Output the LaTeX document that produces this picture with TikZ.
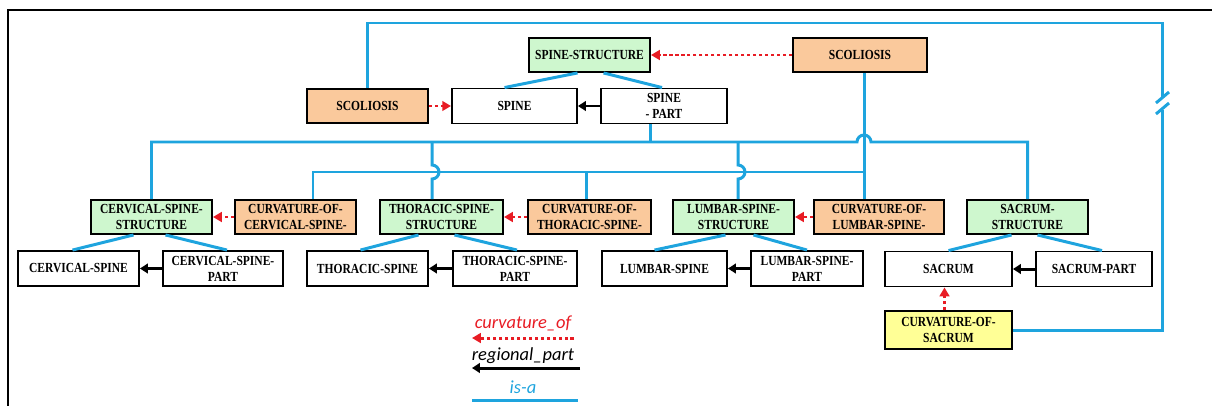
\documentclass[tikz,border=0pt]{standalone}
\usepackage{fontspec}
\usepackage{xcolor}
\definecolor{isablue}{RGB}{30,164,222}
\definecolor{curvred}{RGB}{232,28,36}
\definecolor{strgreen}{RGB}{206,247,206}
\definecolor{curvorange}{RGB}{250,201,156}
\definecolor{sacyellow}{RGB}{255,255,150}
\newfontfamily\boxfont[FakeStretch=0.83, BoldFont={Liberation Serif Bold}]{Liberation Serif}
\newfontfamily\legfont{Carlito}
\usepackage{tikz}
\usetikzlibrary{calc,arrows.meta}

\begin{document}
\begin{tikzpicture}[x=0.02cm, y=-0.02cm,
    bw/.style={minimum width=#1*0.02cm},
    box/.style={draw=black, line width=1.1pt, inner sep=0pt, minimum height=0.68cm, align=center,
        font=\boxfont\bfseries\fontsize{7.9}{9}\selectfont},
    plainbox/.style={box, fill=white, minimum height=0.7cm},
    strbox/.style={box, fill=strgreen},
    curvbox/.style={box, fill=curvorange},
    sacbox/.style={box, fill=sacyellow, minimum height=0.76cm},
    isa/.style={isablue, line width=1.7pt},
    curv/.style={-{Triangle[length=5pt,width=5.5pt]}, curvred, line width=1.7pt, dash pattern=on 2pt off 1.4pt},
    regpart/.style={-{Triangle[length=4.5pt,width=5.5pt]}, black, line width=1.7pt},
    legtext/.style={font=\legfont\itshape\fontsize{10.5}{12}\selectfont, inner sep=0pt}]
    \useasboundingbox (0,0) rectangle (1212,406);

    % Frame
    \draw[black, line width=1.1pt] (1212,10) -- (8,10) -- (8,406);

    % Top level
    \node[curvbox, bw=134] (scoTop) at (860,55) {SCOLIOSIS};
    \node[strbox, bw=121] (spineStr) at (589.5,55) {SPINE-STRUCTURE};
    \node[curvbox, bw=121] (scoLeft) at (367.5,106) {SCOLIOSIS};
    \node[plainbox, bw=125] (spine) at (514.5,106) {SPINE};
    \node[plainbox, bw=126] (spinePart) at (664,106) {SPINE\\- PART};

    % Structures and curvatures
    \node[strbox, bw=121] (cvStr) at (151.5,217) {CERVICAL-SPINE-\\STRUCTURE};
    \node[curvbox, bw=121] (cvCurv) at (295.5,217) {CURVATURE-OF-\\CERVICAL-SPINE-};
    \node[strbox, bw=123] (thStr) at (441.5,217) {THORACIC-SPINE-\\STRUCTURE};
    \node[curvbox, bw=123] (thCurv) at (589.5,217) {CURVATURE-OF-\\THORACIC-SPINE-};
    \node[strbox, bw=121] (lbStr) at (733.5,217) {LUMBAR-SPINE-\\STRUCTURE};
    \node[curvbox, bw=130] (lbCurv) at (879,217) {CURVATURE-OF-\\LUMBAR-SPINE-};
    \node[strbox, bw=121] (saStr) at (1027.5,217) {SACRUM-\\STRUCTURE};

    % Regions and parts
    \node[plainbox, bw=121] (cv) at (78.5,268.5) {CERVICAL-SPINE};
    \node[plainbox, bw=120] (cvPart) at (223,268.5) {CERVICAL-SPINE-\\PART};
    \node[plainbox, bw=121] (th) at (367.5,268.5) {THORACIC-SPINE};
    \node[plainbox, bw=124] (thPart) at (515,268.5) {THORACIC-SPINE-\\PART};
    \node[plainbox, bw=125] (lb) at (664.5,268.5) {LUMBAR-SPINE};
    \node[plainbox, bw=112] (lbPart) at (807,268.5) {LUMBAR-SPINE-\\PART};
    \node[plainbox, bw=127] (sa) at (948.5,269) {SACRUM};
    \node[plainbox, bw=116] (saPart) at (1094,269) {SACRUM-PART};
    \node[sacbox, bw=127] (saCurv) at (948.5,330) {CURVATURE-OF-\\SACRUM};

    % Bus levels and crossing points
    \coordinate (loopTop) at (1162,23);
    \coordinate (brk) at (1162,103);
    \coordinate (busA) at (0,142);
    \coordinate (busB) at (0,172);
    \coordinate (scv) at (864,0);
    \coordinate (spv) at (650,0);
    \coordinate (thv) at (432,0);
    \coordinate (lbv) at (738,0);
    \coordinate (cvcv) at (313,0);
    \coordinate (thcv) at (586,0);

    % is-a
    \draw[isa] ($(spineStr.south)+(-12,0)$) -- ($(spine.north)+(-10,0)$);
    \draw[isa] ($(spineStr.south)+(14,0)$) -- ($(spinePart.north)+(-2,0)$);
    \draw[isa] ($(cvStr.south)+(-18,0)$) -- ($(cv.north)+(-6,0)$);
    \draw[isa] ($(cvStr.south)+(14,0)$) -- ($(cvPart.north)+(4,0)$);
    \draw[isa] ($(thStr.south)+(-23,0)$) -- ($(th.north)+(-7,0)$);
    \draw[isa] ($(thStr.south)+(13,0)$) -- ($(thPart.north)+(2,0)$);
    \draw[isa] ($(lbStr.south)+(-8,0)$) -- ($(lb.north)+(-10,0)$);
    \draw[isa] ($(lbStr.south)+(20,0)$) -- (lbPart.north);
    \draw[isa] ($(saStr.south)+(-16,0)$) -- (sa.north);
    \draw[isa] ($(saStr.south)+(10,0)$) -- ($(saPart.north)+(8,0)$);

    % Main bus with hop
    \draw[isa] (spv |- spinePart.south) -- (spv |- busA);
    \draw[isa] (cvStr.north) |- ($(scv |- busA)+(-7,0)$)
        arc[start angle=180, end angle=360, radius=7] -| (saStr.north);
    \draw[isa] (thv |- busA) -- ($(thv |- busB)+(0,-7)$)
        arc[start angle=270, end angle=450, radius=7] -- (thv |- thStr.north);
    \draw[isa] (lbv |- busA) -- ($(lbv |- busB)+(0,-7)$)
        arc[start angle=270, end angle=450, radius=7] -- (lbv |- lbStr.north);

    % Curvature bus
    \draw[isa] (scv |- scoTop.south) -- (scv |- lbCurv.north);
    \draw[isa] (cvcv |- cvCurv.north) |- (scv |- busB);
    \draw[isa] (thcv |- busB) -- (thcv |- thCurv.north);

    % Outer loop with break
    \draw[isa] (scoLeft.north) |- (loopTop) -- ($(brk)+(0,-6)$);
    \draw[isa] ($(brk)+(0,7)$) |- (saCurv.east);
    \draw[isa] ($(brk)+(-6,0)$) -- ($(brk)+(7,-11)$);
    \draw[isa] ($(brk)+(-6,11)$) -- ($(brk)+(7,0)$);

    % curvature_of
    \draw[curv] (scoTop.west) -- (spineStr.east);
    \draw[curv] (scoLeft.east) -- (spine.west);
    \draw[curv] (cvCurv.west) -- (cvStr.east);
    \draw[curv] (thCurv.west) -- (thStr.east);
    \draw[curv] (lbCurv.west) -- (lbStr.east);
    \draw[curv] ($(saCurv.north)+(-4,0)$) -- ($(sa.south)+(-4,0)$);

    % regional_part
    \draw[regpart] (spinePart.west) -- (spine.east);
    \draw[regpart] (cvPart.west) -- (cv.east);
    \draw[regpart] (thPart.west) -- (th.east);
    \draw[regpart] (lbPart.west) -- (lb.east);
    \draw[regpart] (saPart.west) -- (sa.east);

    % Legend
    \node[legtext, text=curvred] (legCurv) at (523,323) {curvature\_of};
    \node[legtext, text=black] (legReg) at (523,356) {regional\_part};
    \node[legtext, text=isablue] (legIsa) at (523,387) {is-a};
    \coordinate (lc1) at (574,338);
    \coordinate (lc2) at (472,338);
    \coordinate (lr1) at (580,368);
    \coordinate (lr2) at (472,368);
    \coordinate (li1) at (472,400);
    \coordinate (li2) at (578,400);
    \draw[curv] (lc1) -- (lc2);
    \draw[regpart] (lr1) -- (lr2);
    \draw[isa] (li1) -- (li2);
\end{tikzpicture}
\end{document}
